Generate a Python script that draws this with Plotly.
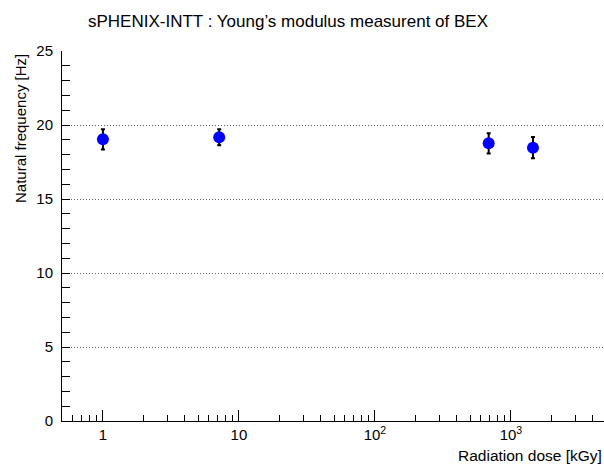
import plotly.graph_objects as go
import math

dose = [1.0, 7.16, 686, 1452]
freq = [19.03, 19.17, 18.76, 18.47]
freq_err = [0.68, 0.54, 0.68, 0.72]

x_tickvals = [1, 10, 100, 1000]
x_ticktext = ["1", "10", "10<sup>2</sup>", "10<sup>3</sup>"]
y_tickvals = [0, 5, 10, 15, 20, 25]

W, H = 604, 464
ml, mr, mt, mb = 62, 0, 51, 43
px_per_decade = 136.0
xmin_log = math.log10(0.5)
xmax_log = xmin_log + (W - ml - mr) / px_per_decade

fig = go.Figure()
fig.add_trace(go.Scatter(
    x=dose, y=freq, mode="markers",
    marker=dict(color="#0000ff", size=12, line=dict(width=0)),
    error_y=dict(type="data", array=freq_err, visible=True,
                 color="black", thickness=2, width=2),
    showlegend=False,
))

font = "Liberation Sans, Arial, Helvetica, sans-serif"
fig.update_layout(
    width=W, height=H,
    margin=dict(l=ml, r=mr, t=mt, b=mb),
    paper_bgcolor="white", plot_bgcolor="white",
    font=dict(family=font, color="black", size=15),
    xaxis=dict(
        type="log", range=[xmin_log, xmax_log],
        tickmode="array", tickvals=x_tickvals, ticktext=x_ticktext,
        ticks="inside", ticklen=11, tickwidth=1, tickcolor="black",
        minor=dict(ticks="inside", ticklen=6, dtick="D1", tickcolor="black", showgrid=False),
        showgrid=False, showline=True, linecolor="black", linewidth=1,
        zeroline=False, tickfont=dict(size=15),
    ),
    yaxis=dict(
        range=[0, 25], tickmode="array", tickvals=y_tickvals,
        ticks="inside", ticklen=8, tickwidth=1, tickcolor="black",
        minor=dict(ticks="inside", ticklen=8, dtick=1, tickcolor="black", showgrid=False),
        showgrid=True, gridcolor="#666666", griddash="1px,2px", gridwidth=1,
        showline=True, linecolor="black", linewidth=1,
        zeroline=False, tickfont=dict(size=15), ticklabelstandoff=5,
    ),
    annotations=[
        dict(text="sPHENIX-INTT : Young’s modulus measurent of BEX",
             xref="paper", yref="paper", x=(288 - ml) / (W - ml), y=1,
             yshift=18, xanchor="center", yanchor="bottom",
             showarrow=False, font=dict(size=17)),
        dict(text="Radiation dose [kGy]", xref="paper", yref="paper",
             x=1, y=0, xanchor="right", yanchor="top", yshift=-24,
             showarrow=False, font=dict(size=15.5)),
        dict(text="Natural frequency [Hz]", xref="paper", yref="paper",
             x=0, y=1, xanchor="right", yanchor="top", xshift=-31, yshift=-1,
             textangle=-90, showarrow=False, font=dict(size=15)),
    ],
)
fig.write_html(
    "out.html",
    config={"displayModeBar": False},
    post_script="document.body.style.margin='0';document.body.style.overflow='hidden';",
)
